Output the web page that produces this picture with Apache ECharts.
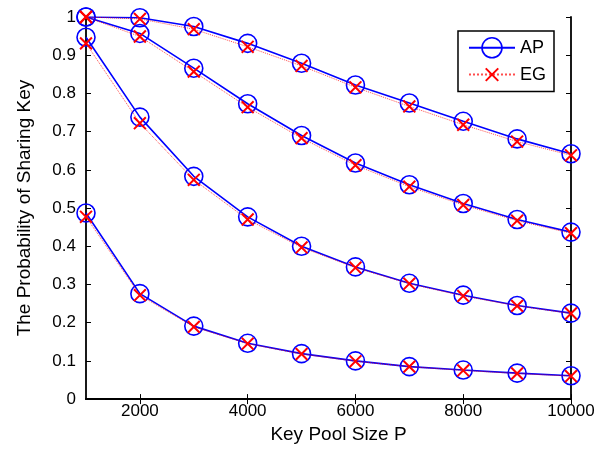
<!DOCTYPE html>
<html>
<head>
  <meta charset="utf-8">
  <script src="https://cdn.jsdelivr.net/npm/echarts@6/dist/echarts.min.js"></script>
</head>
<body style="margin: 0">
  <div id="container" style="width: 609px; height: 449px"></div>
  <script type="text/javascript">
    // key pool sizes
    var poolSize = [1000, 2000, 3000, 4000, 5000, 6000, 7000, 8000, 9000, 10000];
    var xTicks = [2000, 4000, 6000, 8000, 10000];

    // AP curves (blue, circles)
    var ap1 = [1.0, 0.998, 0.975, 0.931, 0.879, 0.822, 0.775, 0.727, 0.681, 0.642];
    var ap2 = [1.0, 0.957, 0.866, 0.773, 0.690, 0.618, 0.561, 0.512, 0.470, 0.437];
    var ap3 = [0.947, 0.738, 0.583, 0.477, 0.400, 0.346, 0.303, 0.272, 0.245, 0.225];
    var ap4 = [0.487, 0.276, 0.191, 0.146, 0.119, 0.100, 0.085, 0.076, 0.068, 0.061];

    // EG curves (red, crosses)
    var eg1 = [1.0, 0.995, 0.968, 0.922, 0.872, 0.816, 0.766, 0.718, 0.674, 0.638];
    var eg2 = [1.0, 0.949, 0.857, 0.764, 0.683, 0.612, 0.556, 0.508, 0.467, 0.434];
    var eg3 = [0.931, 0.722, 0.574, 0.470, 0.397, 0.344, 0.302, 0.270, 0.244, 0.224];
    var eg4 = [0.477, 0.272, 0.189, 0.145, 0.118, 0.099, 0.085, 0.075, 0.067, 0.060];

    var FONT = 'Liberation Sans';
    // cross with empty margin round it (zero-length segments set the box)
    var crossPath = 'path://M0,0L0,0M16,16L16,16M3,3L13,13M13,3L3,13';

    function pairs(ys) {
      return poolSize.map(function (x, i) { return [x, ys[i]]; });
    }

    function apSeries(ys) {
      return {
        name: 'AP', type: 'line', data: pairs(ys),
        symbol: 'circle', symbolSize: 18,
        itemStyle: { color: 'transparent', borderColor: '#0000ff', borderWidth: 1.6 },
        lineStyle: { color: '#0000ff', width: 1.6 },
        emphasis: { disabled: true }, z: 2
      };
    }

    function egSeries(ys) {
      return {
        name: 'EG', type: 'line', data: pairs(ys),
        symbol: crossPath, symbolSize: 19,
        itemStyle: { color: 'transparent', borderColor: '#ff0000', borderWidth: 2 },
        lineStyle: { color: '#ff0000', width: 1, type: 'dotted', opacity: 0.7 },
        emphasis: { disabled: true }, z: 3
      };
    }

    var chart = echarts.init(document.getElementById('container'), null, { renderer: 'canvas' });

    var axisLine = { show: true, lineStyle: { color: '#000', width: 1.8 } };

    var option = {
      animation: false,
      backgroundColor: '#fff',
      textStyle: { fontFamily: FONT },
      grid: { left: 86, right: 38, top: 17, bottom: 49 },
      legend: {
        orient: 'vertical',
        right: 55, top: 31,
        itemWidth: 46, itemHeight: 25, itemGap: 5,
        padding: [6, 8, 6, 10],
        borderColor: '#000', borderWidth: 1.5,
        backgroundColor: '#fff',
        textStyle: { fontFamily: FONT, fontSize: 18, color: '#000' },
        data: [
          { name: 'AP', itemStyle: { color: 'transparent', borderColor: '#0000ff', borderWidth: 1.6 } },
          { name: 'EG', itemStyle: { color: 'transparent', borderColor: '#ff0000', borderWidth: 2 } }
        ]
      },
      xAxis: [{
        type: 'value', min: 1000, max: 10000,
        name: 'Key Pool Size P', nameLocation: 'middle', nameGap: 20,
        nameTextStyle: { fontFamily: FONT, fontSize: 19, color: '#000', padding: [0, 0, 0, 20] },
        axisLine: axisLine,
        axisTick: { inside: true, length: 5, customValues: xTicks, lineStyle: { color: '#000', width: 1 } },
        axisLabel: {
          customValues: xTicks, margin: 4, fontSize: 17, color: '#000', fontFamily: FONT,
          formatter: function (v) { return String(v); }
        },
        splitLine: { show: false }
      }, {
        type: 'value', min: 1000, max: 10000, position: 'top',
        axisLine: axisLine,
        axisTick: { inside: true, length: 5, customValues: xTicks, lineStyle: { color: '#000', width: 1 } },
        axisLabel: { show: false },
        splitLine: { show: false }
      }],
      yAxis: [{
        type: 'value', min: 0, max: 1, interval: 0.1,
        name: 'The Probability of Sharing Key', nameLocation: 'middle', nameGap: 52,
        nameTextStyle: { fontFamily: FONT, fontSize: 19, color: '#000' },
        axisLine: axisLine,
        axisTick: { inside: true, length: 5, lineStyle: { color: '#000', width: 1 } },
        axisLabel: {
          margin: 10, fontSize: 17, color: '#000', fontFamily: FONT,
          formatter: function (v) { return String(Math.round(v * 10) / 10); }
        },
        splitLine: { show: false }
      }, {
        type: 'value', min: 0, max: 1, interval: 0.1, position: 'right',
        axisLine: axisLine,
        axisTick: { inside: true, length: 5, lineStyle: { color: '#000', width: 1 } },
        axisLabel: { show: false },
        splitLine: { show: false }
      }],
      series: [
        apSeries(ap1), apSeries(ap2), apSeries(ap3), apSeries(ap4),
        egSeries(eg1), egSeries(eg2), egSeries(eg3), egSeries(eg4)
      ]
    };

    chart.setOption(option);
    window.addEventListener('resize', chart.resize);
  </script>
</body>
</html>
